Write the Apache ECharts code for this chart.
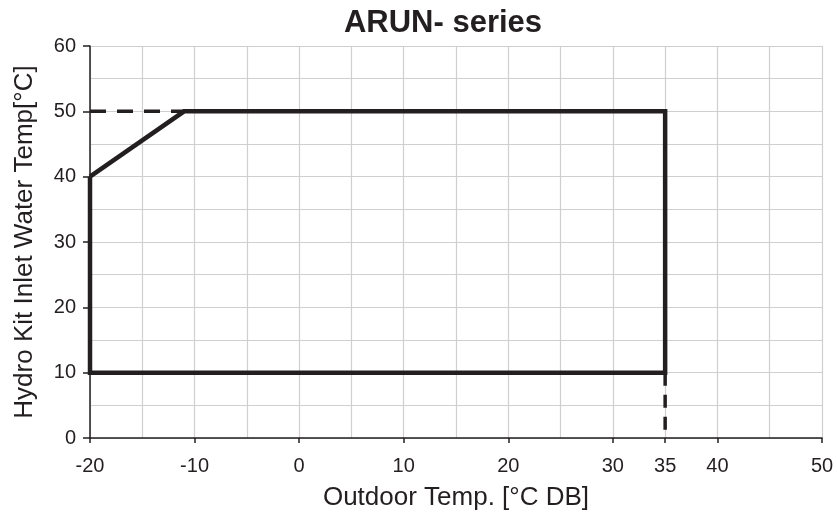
<!DOCTYPE html>
<html><head><meta charset="utf-8">
<script src="https://cdn.jsdelivr.net/npm/echarts@6/dist/echarts.min.js"></script>
<style>html,body{margin:0;padding:0;background:#fff}#c{width:837px;height:517px}</style>
</head><body><div id="c"></div>
<script>
var envelopeX = [-20, -11, 35, 35, -20, -20];
var envelopeY = [40, 50, 50, 10, 10, 40];
var dashTopX = [-20, -11];
var dashTopY = [50, 50];
var dashRightX = [35, 35];
var dashRightY = [10, 0];
var xTickLabels = [-20, -10, 0, 10, 20, 30, 35, 40, 50];
var yTickLabels = [0, 10, 20, 30, 40, 50, 60];

function pairs(xs, ys){ return xs.map(function(x,i){return [x, ys[i]];}); }
var font = 'Liberation Sans, Arial, sans-serif';
var ink = '#231f20';
var gridColor = '#cfcfcf';
var chart = echarts.init(document.getElementById('c'), null, {renderer:'canvas'});
chart.setOption({
  animation:false,
  backgroundColor:'#fff',
  title:{text:'ARUN- series', left:438, textAlign:'center', top:3,
    textStyle:{fontFamily:font, fontSize:31, fontWeight:'bold', color:ink}},
  grid:{left:90, right:15, top:46, bottom:79, containLabel:false},
  xAxis:[{type:'value', min:-20, max:50,
    name:'Outdoor Temp. [°C DB]', nameLocation:'middle', nameGap:47,
    nameTextStyle:{fontFamily:font, fontSize:26, color:ink},
    axisLine:{onZero:false, lineStyle:{color:ink, width:1.5}},
    axisTick:{show:true, customValues:xTickLabels, length:5, inside:false, lineStyle:{color:ink, width:1.5}},
    axisLabel:{customValues:xTickLabels, fontFamily:font, fontSize:20, color:ink, margin:18},
    splitLine:{show:false}, z:3
  },{type:'value', min:-20, max:50, interval:5, position:'bottom',
    axisLine:{show:false}, axisTick:{show:false}, axisLabel:{show:false},
    splitLine:{show:true, lineStyle:{color:gridColor, width:1.2}}
  }],
  yAxis:[{type:'value', min:0, max:60,
    name:'Hydro Kit Inlet Water Temp[°C]', nameLocation:'middle', nameGap:52, nameRotate:90,
    nameTextStyle:{fontFamily:font, fontSize:26, color:ink},
    axisLine:{show:true, onZero:false, lineStyle:{color:ink, width:1.5}},
    axisTick:{show:true, customValues:yTickLabels, length:7, lineStyle:{color:ink, width:1.5}},
    axisLabel:{customValues:yTickLabels, fontFamily:font, fontSize:20, color:ink, margin:14},
    splitLine:{show:false}, z:3
  },{type:'value', min:0, max:60, interval:5, position:'left',
    axisLine:{show:false}, axisTick:{show:false}, axisLabel:{show:false},
    splitLine:{show:true, lineStyle:{color:gridColor, width:1.2}}
  }],
  series:[
    {type:'line', xAxisIndex:0, yAxisIndex:0, data:pairs(envelopeX, envelopeY), showSymbol:false, symbol:'none',
      lineStyle:{color:ink, width:4.5, join:'miter'}, z:5},
    {type:'line', xAxisIndex:0, yAxisIndex:0, data:pairs(dashTopX, dashTopY), showSymbol:false, symbol:'none',
      lineStyle:{color:ink, width:3.5, type:[16,11]}, z:4},
    {type:'line', xAxisIndex:0, yAxisIndex:0, data:pairs(dashRightX, dashRightY), showSymbol:false, symbol:'none',
      lineStyle:{color:ink, width:3.5, type:[13,9]}, z:4}
  ]
});
</script></body></html>
